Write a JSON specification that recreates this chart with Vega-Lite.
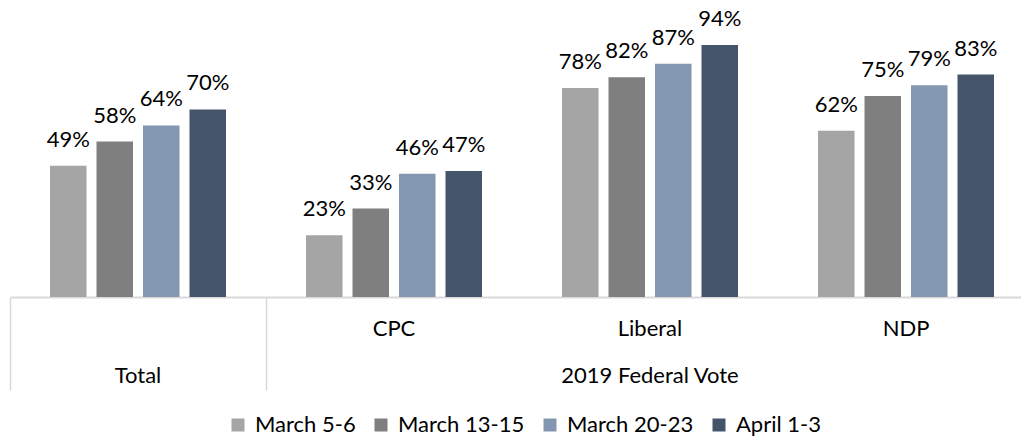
{
  "$schema": "https://vega.github.io/schema/vega-lite/v6.json",
  "width": 1011,
  "height": 268,
  "autosize": {"type": "none"},
  "padding": {"left": 10, "top": 29, "right": 0, "bottom": 140},
  "config": {"font": "Lato", "view": {"stroke": null}},
  "data": {
    "values": [
      {"group": "Total", "period": "March 5-6", "value": 0.49},
      {"group": "Total", "period": "March 13-15", "value": 0.58},
      {"group": "Total", "period": "March 20-23", "value": 0.64},
      {"group": "Total", "period": "April 1-3", "value": 0.70},
      {"group": "CPC", "period": "March 5-6", "value": 0.23},
      {"group": "CPC", "period": "March 13-15", "value": 0.33},
      {"group": "CPC", "period": "March 20-23", "value": 0.46},
      {"group": "CPC", "period": "April 1-3", "value": 0.47},
      {"group": "Liberal", "period": "March 5-6", "value": 0.78},
      {"group": "Liberal", "period": "March 13-15", "value": 0.82},
      {"group": "Liberal", "period": "March 20-23", "value": 0.87},
      {"group": "Liberal", "period": "April 1-3", "value": 0.94},
      {"group": "NDP", "period": "March 5-6", "value": 0.62},
      {"group": "NDP", "period": "March 13-15", "value": 0.75},
      {"group": "NDP", "period": "March 20-23", "value": 0.79},
      {"group": "NDP", "period": "April 1-3", "value": 0.83}
    ]
  },
  "encoding": {
    "x": {
      "field": "group",
      "type": "nominal",
      "sort": ["Total", "CPC", "Liberal", "NDP"],
      "scale": {"range": [0, 1024], "paddingInner": 0, "paddingOuter": 0},
      "axis": {
        "title": null,
        "domainColor": "#D9D9D9",
        "domainWidth": 2,
        "bandPosition": 0,
        "ticks": true,
        "tickSize": 93,
        "tickWidth": 1.5,
        "tickColor": {"condition": {"test": "datum.value == 'Total' || datum.value == 'CPC'", "value": "#D9D9D9"}, "value": "rgba(0,0,0,0)"},
        "labelPadding": -55,
        "labelFontSize": 22,
        "labelColor": "#000000",
        "labelBaseline": "alphabetic",
        "labelLineHeight": 47,
        "labelAngle": 0,
        "labelOverlap": false,
        "labelBound": false,
        "labelExpr": "datum.value == 'Total' ? [' ', 'Total'] : datum.value == 'Liberal' ? ['Liberal', '2019 Federal Vote'] : datum.value"
      }
    },
    "xOffset": {
      "field": "period",
      "type": "nominal",
      "sort": ["March 5-6", "March 13-15", "March 20-23", "April 1-3"],
      "scale": {"paddingInner": 0.215, "paddingOuter": 0.86}
    },
    "y": {
      "field": "value",
      "type": "quantitative",
      "scale": {"domain": [0, 1]},
      "axis": null
    }
  },
  "layer": [
    {
      "mark": {"type": "bar"},
      "encoding": {
        "color": {
          "field": "period",
          "type": "nominal",
          "sort": ["March 5-6", "March 13-15", "March 20-23", "April 1-3"],
          "scale": {
            "domain": ["March 5-6", "March 13-15", "March 20-23", "April 1-3"],
            "range": ["#A5A5A5", "#7F7F7F", "#8497B0", "#44546A"]
          },
          "legend": {
            "title": null,
            "orient": "none",
            "legendX": 217,
            "legendY": 385,
            "direction": "horizontal",
            "symbolType": "square",
            "symbolSize": 169,
            "symbolStrokeWidth": 0,
            "symbolOpacity": 1,
            "labelFontSize": 22,
            "labelColor": "#000000",
            "labelOffset": 6,
            "columnPadding": 14
          }
        }
      }
    },
    {
      "mark": {"type": "text", "baseline": "alphabetic", "dy": -19, "fontSize": 22, "color": "#000000"},
      "encoding": {
        "text": {"field": "value", "type": "quantitative", "format": ".0%"}
      }
    }
  ]
}
